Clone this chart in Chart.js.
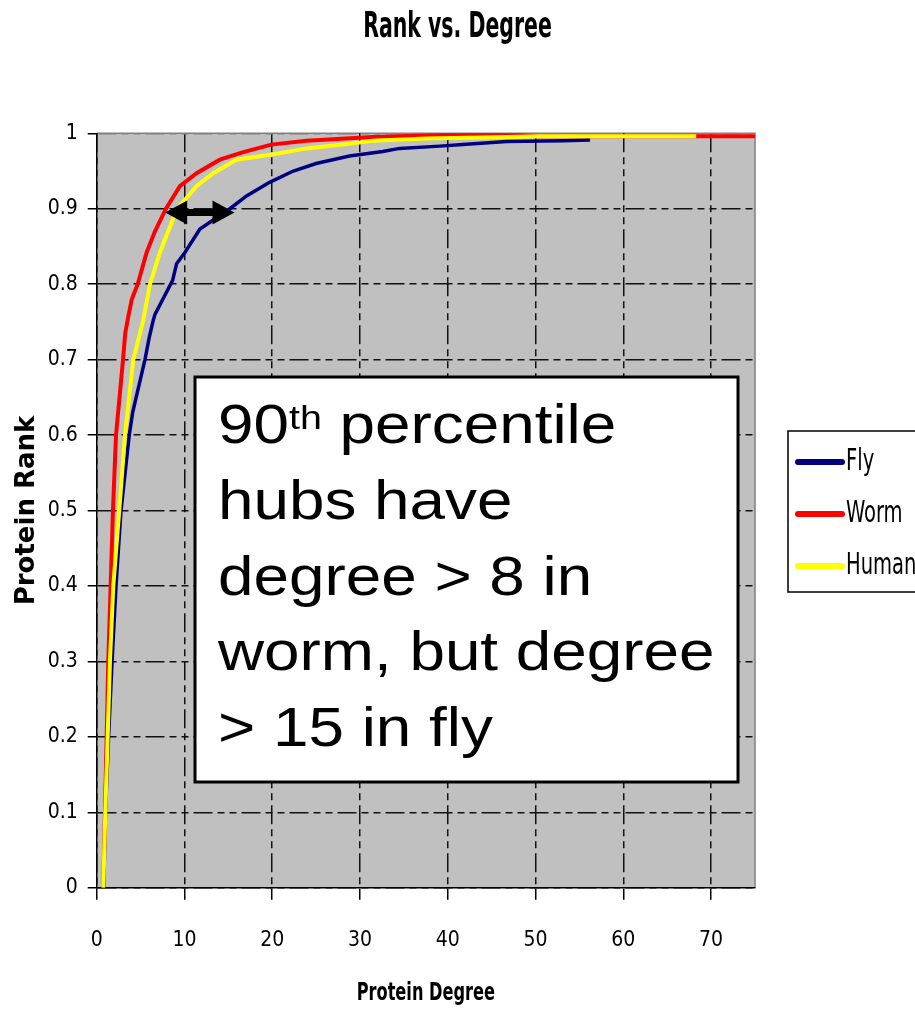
<!DOCTYPE html>
<html>
<head>
<meta charset="utf-8">
<script src="https://cdn.jsdelivr.net/npm/chart.js@4.4.1/dist/chart.umd.min.js"></script>
<style>
  html, body { margin: 0; padding: 0; background: #fff; }
  #wrap { width: 915px; height: 1010px; }
</style>
</head>
<body>
<div id="wrap"><canvas id="chart" width="915" height="1010"></canvas></div>
<script>
// values: protein degree (x) vs cumulative rank (y)
const flyDegree = [0.8, 1.0, 1.35, 1.75, 2.2, 2.77, 3.71, 4.1, 5.5, 6.0, 6.44, 6.64, 8.65, 9.1, 10.05, 11.76, 15.17, 17.07, 19.7, 22.4, 25.0, 28.8, 32.6, 34.5, 39.1, 41.7, 46.7, 53.1, 56.2];
const flyRank   = [0, 0.1, 0.2, 0.3, 0.4, 0.5, 0.6, 0.63, 0.7, 0.73, 0.752, 0.76, 0.805, 0.827, 0.842, 0.873, 0.9, 0.917, 0.935, 0.95, 0.96, 0.97, 0.976, 0.98, 0.983, 0.985, 0.989, 0.99, 0.991];

const wormDegree = [0.75, 0.94, 1.14, 1.32, 1.59, 1.85, 2.2, 3.0, 3.25, 3.6, 4.0, 4.67, 5.69, 6.64, 7.89, 9.48, 11.38, 14.03, 16.7, 19.9, 23.9, 31.4, 37.6, 42.5, 47, 50, 75];
const wormRank   = [0, 0.1, 0.2, 0.3, 0.4, 0.5, 0.6, 0.7, 0.735, 0.757, 0.78, 0.8, 0.842, 0.87, 0.9, 0.93, 0.947, 0.965, 0.975, 0.985, 0.99, 0.995, 0.997, 0.999, 0.999, 0.996, 0.996];

const humanDegree = [0.75, 0.98, 1.25, 1.51, 1.89, 2.57, 3.22, 4.17, 5.3, 6.07, 7.2, 8.72, 9.17, 11.38, 13.27, 15.93, 20.5, 23.9, 28.8, 31.4, 37.6, 46.7, 50.5, 68.3];
const humanRank   = [0, 0.1, 0.2, 0.3, 0.4, 0.5, 0.6, 0.7, 0.752, 0.8, 0.842, 0.887, 0.9, 0.93, 0.947, 0.965, 0.973, 0.98, 0.986, 0.99, 0.993, 0.995, 0.996, 0.996];

const seriesNames = ['Fly', 'Worm', 'Human'];
const seriesColors = ['#000080', '#ff0000', '#ffff00'];

const xTickValues = [0, 10, 20, 30, 40, 50, 60, 70];
const yTickValues = [0, 0.1, 0.2, 0.3, 0.4, 0.5, 0.6, 0.7, 0.8, 0.9, 1];

const chartTitle = 'Rank vs. Degree';
const xTitle = 'Protein Degree';
const yTitle = 'Protein Rank';

// 90th percentile arrow: from worm degree to fly degree
const arrowDegrees = [7.8, 15.7];
const arrowRank = 0.895;

const noteLines = ['90|th| percentile', 'hubs have', 'degree > 8 in', 'worm, but degree', '> 15 in fly'];

const narrow = "'DejaVu Sans Condensed', 'DejaVu Sans', sans-serif";
const gridDash = [19, 5, 7, 5, 7, 5];

function pts(xs, ys) {
  return xs.map((x, i) => ({ x: x, y: ys[i] }));
}

// the original uses a squeezed narrow face; emulate it by scaling x
function squeezed(ctx, text, x, y, font, sx, align) {
  ctx.save();
  ctx.font = font;
  ctx.textAlign = align || 'left';
  ctx.translate(x, y);
  ctx.scale(sx, 1);
  ctx.fillText(text, 0, 0);
  ctx.restore();
}

const plotBackground = {
  id: 'plotBackground',
  beforeDraw(chart) {
    const { ctx, chartArea: a } = chart;
    ctx.save();
    ctx.fillStyle = '#c0c0c0';
    ctx.fillRect(a.left, a.top, a.right - a.left, a.bottom - a.top);
    ctx.strokeStyle = '#808080';
    ctx.lineWidth = 1.5;
    ctx.beginPath();
    ctx.moveTo(a.left, a.top);
    ctx.lineTo(a.right, a.top);
    ctx.lineTo(a.right, a.bottom);
    ctx.stroke();
    ctx.restore();
  }
};

const noteAndArrow = {
  id: 'noteAndArrow',
  afterDatasetsDraw(chart) {
    const ctx = chart.ctx;
    const xs = chart.scales.x, ys = chart.scales.y;

    // double headed arrow
    const x1 = xs.getPixelForValue(arrowDegrees[0]);
    const x2 = xs.getPixelForValue(arrowDegrees[1]);
    const y = ys.getPixelForValue(arrowRank);
    const head = 22, half = 12, shaft = 3.5;
    ctx.save();
    ctx.fillStyle = '#000';
    ctx.beginPath();
    ctx.moveTo(x1, y);
    ctx.lineTo(x1 + head, y - half);
    ctx.lineTo(x1 + head, y - shaft);
    ctx.lineTo(x2 - head, y - shaft);
    ctx.lineTo(x2 - head, y - half);
    ctx.lineTo(x2, y);
    ctx.lineTo(x2 - head, y + half);
    ctx.lineTo(x2 - head, y + shaft);
    ctx.lineTo(x1 + head, y + shaft);
    ctx.lineTo(x1 + head, y + half);
    ctx.closePath();
    ctx.fill();

    // text box
    ctx.fillStyle = '#fff';
    ctx.fillRect(195, 377, 543, 405);
    ctx.strokeStyle = '#000';
    ctx.lineWidth = 3;
    ctx.strokeRect(195, 377, 543, 405);

    ctx.fillStyle = '#000';
    ctx.textBaseline = 'alphabetic';
    ctx.textAlign = 'left';
    const big = "55px 'Liberation Sans', Arial, sans-serif";
    const small = "34px 'Liberation Sans', Arial, sans-serif";
    noteLines.forEach((line, i) => {
      const base = 443 + i * 75.8;
      ctx.save();
      ctx.translate(218, base);
      ctx.scale(1.16, 1);
      let cx = 0;
      line.split('|').forEach((part, j) => {
        const sup = j === 1;
        ctx.font = sup ? small : big;
        ctx.fillText(part, cx, sup ? -14 : 0);
        cx += ctx.measureText(part).width;
      });
      ctx.restore();
    });
    ctx.restore();
  },
  afterDraw(chart) {
    const ctx = chart.ctx;
    const a = chart.chartArea;
    ctx.save();
    ctx.fillStyle = '#000';
    ctx.textBaseline = 'alphabetic';
    squeezed(ctx, chartTitle, chart.width / 2, 37, 'bold 35px ' + narrow, 0.65, 'center');
    squeezed(ctx, xTitle, (a.left + a.right) / 2, 1000, 'bold 25px ' + narrow, 0.72, 'center');

    // legend box, partly cut by the right edge as in the picture
    ctx.strokeStyle = '#000';
    ctx.lineWidth = 1.5;
    ctx.strokeRect(788, 431, 200, 161);
    ctx.textBaseline = 'middle';
    chart.data.datasets.forEach((ds, i) => {
      const y = 462 + i * 52;
      ctx.strokeStyle = ds.borderColor;
      ctx.lineWidth = 6;
      ctx.lineCap = 'round';
      ctx.beginPath();
      ctx.moveTo(798, y);
      ctx.lineTo(842, y);
      ctx.stroke();
      ctx.fillStyle = '#000';
      squeezed(ctx, ds.label, 846, y, '31px ' + narrow, 0.7);
    });
    ctx.restore();
  }
};

new Chart(document.getElementById('chart'), {
  type: 'line',
  data: {
    datasets: [
      { label: seriesNames[0], data: pts(flyDegree, flyRank), borderColor: seriesColors[0], borderWidth: 3.5, order: 3 },
      { label: seriesNames[1], data: pts(wormDegree, wormRank), borderColor: seriesColors[1], borderWidth: 4, order: 2 },
      { label: seriesNames[2], data: pts(humanDegree, humanRank), borderColor: seriesColors[2], borderWidth: 4, order: 1 }
    ]
  },
  options: {
    responsive: false,
    animation: false,
    devicePixelRatio: 1,
    layout: { padding: { left: 0, right: 160, top: 133.3, bottom: 0 } },
    elements: { point: { radius: 0 }, line: { tension: 0, fill: false } },
    plugins: {
      legend: { display: false },
      tooltip: { enabled: false },
      title: { display: false }
    },
    scales: {
      x: {
        type: 'linear',
        min: 0,
        max: 75,
        afterFit(s) { s.height = 122.3; },
        afterBuildTicks(s) { s.ticks = xTickValues.map(v => ({ value: v })); },
        ticks: { color: '#000', font: { family: narrow, size: 21 }, padding: 28, maxRotation: 0 },
        grid: { color: '#111', lineWidth: 1.5, tickLength: 12, tickColor: '#000', tickWidth: 1.5, tickBorderDash: [] },
        border: { display: true, color: '#000', width: 1.5, dash: gridDash },
        title: { display: false, text: xTitle }
      },
      y: {
        type: 'linear',
        min: 0,
        max: 1,
        afterFit(s) { s.width = 96.7; },
        afterBuildTicks(s) { s.ticks = yTickValues.map(v => ({ value: v })); },
        ticks: { color: '#000', font: { family: narrow, size: 21 }, padding: 10, callback: v => String(Math.round(v * 10) / 10) },
        grid: {
          color: c => (c.tick && c.tick.value === 1 ? '#808080' : '#111'),
          lineWidth: 1.5, tickLength: 9, tickColor: '#000', tickWidth: 1.5, tickBorderDash: []
        },
        border: { display: true, color: '#000', width: 1.5, dash: gridDash },
        title: { display: true, text: yTitle, color: '#000', font: { family: "'DejaVu Sans', sans-serif", size: 26, weight: 'bold' }, padding: { top: 12, bottom: 0 } }
      }
    }
  },
  plugins: [plotBackground, noteAndArrow]
});
</script>
</body>
</html>
